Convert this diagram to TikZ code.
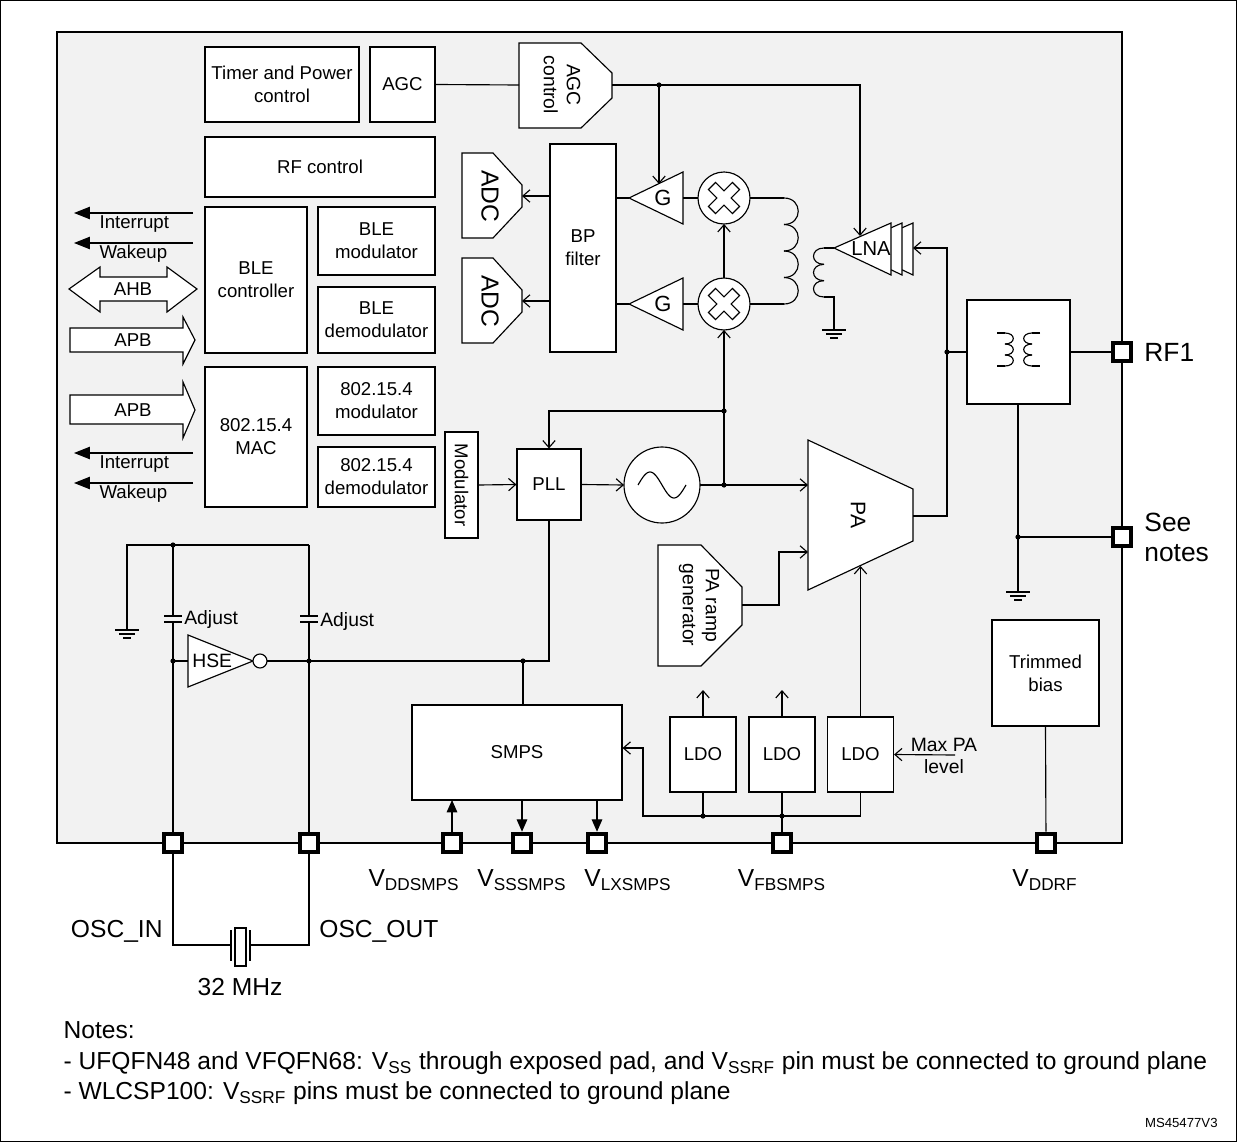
\documentclass[tikz,border=0pt]{standalone}
\usepackage{fontspec}
\setmainfont{Liberation Sans}
\usetikzlibrary{arrows.meta}

\tikzset{
  blk/.style={draw, fill=white, align=center, inner sep=1pt},
  pad/.style={draw, fill=white, line width=2.6pt, minimum size=0.36cm, inner sep=0pt},
  to/.style={-{Straight Barb[length=4pt,width=7pt]}},
  fat/.style={-{Triangle[length=7pt,width=6pt]}},
  big/.style={font=\fontsize{14}{16}\selectfont},
  mid/.style={font=\fontsize{11}{13}\selectfont},
  gnd/.pic={\draw (-12,0) -- (12,0) (-8,4) -- (8,4) (-4,8) -- (4,8);}
}
% box: [opts]{name}{cx}{cy}{w}{h}{text}
\newcommand{\bx}[7][]{\node[blk,#1,minimum width=#5*0.02cm,minimum height=#6*0.02cm] (#2) at (#3,#4) {#7};}
\newcommand{\dotat}[1]{\fill (#1) circle (2.6);}

\begin{document}
\begin{tikzpicture}[x=0.02cm, y=-0.02cm, line width=0.65pt, font=\fontsize{10.6}{13}\selectfont]
\useasboundingbox (0,0) rectangle (1237,1142);
\draw (0.5,0.5) rectangle (1236.5,1141.5);
\draw[fill=black!5] (57,32) rectangle (1122,843);

% digital blocks
\bx{timer}{282}{84.5}{154}{75}{Timer and Power\\control}
\bx{agc}{402.5}{84.5}{65}{75}{AGC}
\bx{rfc}{320}{167}{230}{60}{RF control}
\bx{blec}{256}{280}{102}{146}{BLE\\controller}
\bx{blemod}{376.5}{241}{117}{68}{BLE\\modulator}
\bx{bledem}{376.5}{320}{117}{66}{BLE\\demodulator}
\bx{mac}{256}{437}{102}{140}{802.15.4\\MAC}
\bx{zmod}{376.5}{401}{117}{68}{802.15.4\\modulator}
\bx{zdem}{376.5}{477}{117}{60}{802.15.4\\demodulator}
\bx[rotate=-90]{modu}{461.5}{485}{106}{33}{Modulator}
\bx{bpf}{583}{248}{66}{208}{BP\\filter}
\bx{pll}{549}{484.5}{64}{71}{PLL}
\bx{xfmr}{1018.5}{352}{103}{104}{}
\bx{trim}{1045.5}{673}{107}{106}{Trimmed\\bias}
\bx{smps}{517}{752.5}{210}{95}{SMPS}
\bx{ldoa}{703}{754.5}{66}{75}{LDO}
\bx{ldob}{782}{754.5}{66}{75}{LDO}
\bx{ldoc}{860.5}{754.5}{66}{75}{LDO}

% bus arrows on the left
\draw[fill=white] (69,289) -- (100,267) -- (100,277) -- (167,277) -- (167,267) -- (197,289) -- (167,312) -- (167,301) -- (100,301) -- (100,312) -- cycle;
\node (ahb) at (133,289) {AHB};
\draw[fill=white] (70,328) -- (183,328) -- (183,317) -- (195,340) -- (183,364) -- (183,352) -- (70,352) -- cycle;
\node (apba) at (133,340) {APB};
\draw[fill=white] (70,395) -- (183,395) -- (183,382) -- (195,410) -- (183,438) -- (183,424) -- (70,424) -- cycle;
\node (apbb) at (133,410) {APB};
\foreach \y/\t in {213/Interrupt, 243/Wakeup, 453/Interrupt, 483/Wakeup} {
  \coordinate (s\y) at (193,\y);
  \coordinate (e\y) at (74,\y);
  \draw[-{Triangle[length=9pt,width=7pt]}] (s\y) -- (e\y);
  \node[anchor=west, inner sep=0pt] at (99,\y+11) {\t};
}

% AGC control, ADCs
\draw[fill=white] (519,43) -- (581,43) -- (612,73) -- (612,98) -- (581,128) -- (519,128) -- cycle;
\node[rotate=-90, align=center, mid] (agcc) at (562,85) {AGC\\control};
\foreach \d/\n in {0/adca, 105/adcb} {
  \draw[fill=white] (462,153+\d) -- (493,153+\d) -- (522,185+\d) -- (522,207+\d) -- (493,238+\d) -- (462,238+\d) -- cycle;
  \node[rotate=-90, font=\fontsize{14}{16}\selectfont] (\n) at (490,196+\d) {ADC};
}

% gain stages and mixers
\foreach \y/\n in {198/ga, 304/gb} {
  \draw[fill=white] (629,\y) -- (683,\y-26) -- (683,\y+26) -- cycle;
  \node[font=\fontsize{12.5}{14}\selectfont] (\n) at (663,\y) {G};
  \draw (683,\y) -- (698,\y);
  \draw (629,\y) -- (616,\y);
  \draw[fill=white] (724,\y) circle (26);
  \begin{scope}[shift={(724,\y)}, rotate=45]
    \draw (-5,-17) -- (5,-17) -- (5,-5) -- (17,-5) -- (17,5) -- (5,5) -- (5,17) -- (-5,17) -- (-5,5) -- (-17,5) -- (-17,-5) -- (-5,-5) -- cycle;
  \end{scope}
}
\draw[to] (bpf.west |- 0,196) -- (522,196);
\draw[to] (bpf.west |- 0,301) -- (522,301);

% coils
\draw (750,198) -- (784,198);
\foreach \i in {0,1,2,3}
  \draw (784,198+26.5*\i) .. controls (803,198+26.5*\i) and (803,224.5+26.5*\i) .. (784,224.5+26.5*\i);
\draw (784,304) -- (750,304);
\draw (834,248) -- (824,248);
\foreach \i in {0,1,2}
  \draw (824,248+16.33*\i) .. controls (810,248+16.33*\i) and (810,264.33+16.33*\i) .. (824,264.33+16.33*\i);
\draw (824,297) -- (834,297) -- (834,330);
\pic at (834,330) {gnd};

% LNA
\foreach \s in {22,11} \draw[fill=white] (834+\s,248) -- (891+\s,223) -- (891+\s,275) -- cycle;
\draw[fill=white] (834,248) -- (891,223) -- (891,275) -- cycle;
\node[font=\fontsize{11.5}{13}\selectfont] (lna) at (871,249) {LNA};

% AGC paths
\draw (agc.east) -- (519,85);
\draw[to] (612,85) -- (860,85) -- (860,236);
\dotat{659,85}
\draw[to] (659,85) -- (659,184);

% LO, PA
\draw[fill=white] (662,485) circle (38);
\coordinate (osc) at (662,485);
\draw plot[domain=-24:24, samples=40] ({662+\x},{485+13*sin(\x*180/24)});
\draw[to] (modu.north) -- (pll.west);
\draw[to] (pll.east) -- (624,485);
\draw[to] (700,485) -- (808,485);
\dotat{724,485}
\draw[to] (724,485) -- (724,330);
\draw[to] (724,278) -- (724,224);
\dotat{724,411}
\draw[to] (724,411) -- (549,411) -- (pll.north);
\draw[fill=white] (808,440) -- (913,489) -- (913,541) -- (808,590) -- cycle;
\node[rotate=-90, font=\fontsize{12}{14}\selectfont] (pa) at (858,515) {PA};
\draw[fill=white] (658,545) -- (701,545) -- (742,587) -- (742,625) -- (701,666) -- (658,666) -- cycle;
\node[rotate=-90, align=center, mid] (ramp) at (699,605) {PA ramp\\generator};
\draw[to] (742,605) -- (779,605) -- (779,552) -- (808,552);
\draw[to] (913,516) -- (947,516) -- (947,248) -- (913,248);
\dotat{947,352}
\draw (947,352) -- (xfmr.west);

% transformer symbol
\draw (997,333) -- (1005,333);
\foreach \i in {0,1,2}
  \draw (1005,333+11*\i) .. controls (1016,333+11*\i) and (1016,344+11*\i) .. (1005,344+11*\i);
\draw (1005,366) -- (997,366);
\draw (1040,333) -- (1032,333);
\foreach \i in {0,1,2}
  \draw (1032,333+11*\i) .. controls (1021,333+11*\i) and (1021,344+11*\i) .. (1032,344+11*\i);
\draw (1032,366) -- (1040,366);

% pads
\node[pad] (prf) at (1122,352) {};
\node[pad] (psee) at (1122,537) {};
\node[anchor=west, font=\fontsize{15}{18}\selectfont] at (1138,352) {RF1};
\node[anchor=west, align=left, font=\fontsize{15}{17}\selectfont] at (1138,537) {See\\notes};
\draw (xfmr.east) -- (prf);
\draw (1018,404) -- (1018,592);
\pic at (1018,592) {gnd};
\dotat{1018,537}
\draw (1018,537) -- (psee);

\foreach \x/\n in {173/pin, 309/pout, 452/pvdd, 522/pvss, 597/plx, 782/pfb, 1046/pdrf}
  \node[pad] (\n) at (\x,843) {};
\node[big] at (414,880) {V\textsubscript{DDSMPS}};
\node[big] at (522,880) {V\textsubscript{SSSMPS}};
\node[big] at (628,880) {V\textsubscript{LXSMPS}};
\node[big] at (782,880) {V\textsubscript{FBSMPS}};
\node[big] at (1045,880) {V\textsubscript{DDRF}};

% LDOs and SMPS
\draw[to] (ldoa.north) -- (703,690);
\draw[to] (ldob.north) -- (782,690);
\draw[to] (ldoc.north) -- (860.5,566);
\node[align=center, mid] (maxpa) at (944,756) {Max PA\\level};
\draw[to] (955,755) -- (ldoc.east);
\draw (ldoa.south) -- (703,816);
\draw (ldob.south) -- (782,816);
\draw[to] (860.5,792) -- (860.5,816) -- (643,816) -- (643,748) -- (smps.east |- 0,748);
\dotat{703,816}
\dotat{782,816}
\draw (pfb) -- (782,816);
\draw (trim.south) -- (pdrf);
\draw[fat] (pvdd) -- (452,800);
\draw[fat] (522,800) -- (pvss);
\draw[fat] (597,800) -- (plx);

% HSE oscillator
\draw (127,630) -- (127,545) -- (309,545);
\pic at (127,630) {gnd};
\dotat{173,545}
\draw (173,545) -- (173,616) (173,622) -- (pin);
\draw (309,545) -- (309,616) (309,622) -- (pout);
\draw (164,616) -- (182,616) (164,622) -- (182,622);
\draw (300,616) -- (318,616) (300,622) -- (318,622);
\node[anchor=west, inner sep=1pt, mid] at (182,619) {Adjust};
\node[anchor=west, inner sep=1pt, mid] at (318,621) {Adjust};
\draw[fill=white] (188,635) -- (253,661) -- (188,687) -- cycle;
\node[anchor=west, inner sep=1pt, mid] (hse) at (190,661) {HSE};
\draw[fill=white] (260,661) circle (7);
\dotat{173,661}
\draw (173,661) -- (188,661);
\draw (267,661) -- (549,661) -- (pll.south);
\dotat{309,661}
\dotat{523,661}
\draw (523,661) -- (523,705);

% crystal
\draw (pin) -- (173,945) -- (231,945);
\draw (250,945) -- (309,945) -- (pout);
\draw (231,930) -- (231,961) (250,930) -- (250,961);
\draw (235,928) rectangle (246,966);
\node[big, anchor=east] at (169,931) {OSC\_IN};
\node[big, anchor=west] at (313,931) {OSC\_OUT};
\node[big] at (240,987) {32 MHz};

% notes
\begin{scope}[font=\fontsize{14}{16}\selectfont]
\node[anchor=west, inner sep=0pt] at (63,1030) {Notes:};
\node[anchor=west, inner sep=0pt] at (63,1063) {- UFQFN48 and VFQFN68: V\textsubscript{SS} through exposed pad, and V\textsubscript{SSRF} pin must be connected to ground plane};
\node[anchor=west, inner sep=0pt] at (63,1093) {- WLCSP100: V\textsubscript{SSRF} pins must be connected to ground plane};
\end{scope}
\node[anchor=east, font=\fontsize{7.5}{8}\selectfont] at (1224,1123) {MS45477V3};
\end{tikzpicture}
\end{document}
